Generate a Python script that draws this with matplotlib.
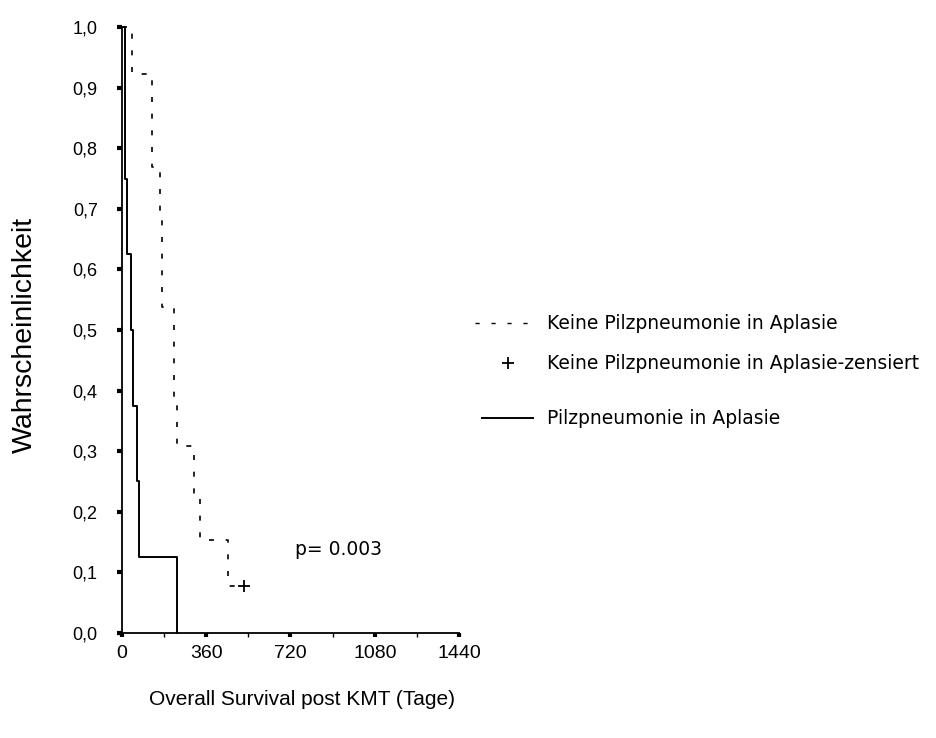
import matplotlib
matplotlib.use("Agg")
import matplotlib.pyplot as plt
from matplotlib.ticker import FixedLocator, FuncFormatter

plt.rcParams['font.family'] = ['Liberation Sans', 'DejaVu Sans']

# Kaplan-Meier steps (days, survival probability)
pilz_days = [0, 12, 22, 37, 48, 63, 74, 234]
pilz_surv = [1.0, 0.75, 0.625, 0.5, 0.375, 0.25, 0.125, 0.0]

keine_days = [0, 44, 127, 162, 169, 222, 234, 309, 333, 453, 521]
keine_surv = [1.0, 0.923, 0.769, 0.692, 0.538, 0.385, 0.308, 0.231, 0.154, 0.077, 0.077]

# censored observation
zensiert_days = [521]
zensiert_surv = [0.077]

x_ticks = [0, 360, 720, 1080, 1440]
x_minor = [180, 540, 900, 1260]
y_ticks = [0.0, 0.1, 0.2, 0.3, 0.4, 0.5, 0.6, 0.7, 0.8, 0.9, 1.0]

p_text = "p= 0.003"
labels = ["Keine Pilzpneumonie in Aplasie",
          "Keine Pilzpneumonie in Aplasie-zensiert",
          "Pilzpneumonie in Aplasie"]

fig = plt.figure(figsize=(9.36, 7.38), dpi=100)
ax = fig.add_axes([0.1303, 0.1423, 0.3601, 0.8211])

dash = (0, (3.0, 7.0))
ax.step(keine_days, keine_surv, where='post', color='black', lw=1.2,
        linestyle=dash, clip_on=False)
ax.step(pilz_days, pilz_surv, where='post', color='black', lw=1.4,
        clip_on=False)
ax.plot(zensiert_days, zensiert_surv, linestyle='none', marker='+',
        color='black', markersize=9, mew=1.3, clip_on=False)

txt_font = ['DejaVu Sans']
ax.text(739, 0.137, p_text, fontsize=13.5, family=txt_font, va='center', ha='left')

ax.set_xlim(0, 1440)
ax.set_ylim(0, 1.0)
ax.xaxis.set_major_locator(FixedLocator(x_ticks))
ax.xaxis.set_minor_locator(FixedLocator(x_minor))
ax.yaxis.set_major_locator(FixedLocator(y_ticks))
ax.yaxis.set_major_formatter(FuncFormatter(lambda v, _: f"{v:.1f}".replace('.', ',')))

for side in ['top', 'right']:
    ax.spines[side].set_visible(False)
for side in ['left', 'bottom']:
    ax.spines[side].set_linewidth(1.3)

ax.tick_params(axis='x', which='major', length=3, width=3, labelsize=14, pad=6)
ax.tick_params(axis='x', which='minor', length=3, width=1)
ax.tick_params(axis='y', which='major', length=3.5, width=3, labelsize=13, pad=14)

fig.text(0.3226, 0.0515, "Overall Survival post KMT (Tage)", fontsize=15,
         ha='center', va='center')
fig.text(0.0267, 0.546, "Wahrscheinlichkeit", fontsize=20.5, rotation=90,
         ha='center', va='center')

# legend drawn by hand
fig.add_artist(plt.Line2D([0.5075, 0.5662], [0.5623, 0.5623], color='black',
                          lw=1.0, linestyle=(0, (3.0, 8.5)),
                          transform=fig.transFigure))
fig.add_artist(plt.Line2D([0.5427], [0.5081], color='black', marker='+',
                          markersize=9, mew=1.3, transform=fig.transFigure))
fig.add_artist(plt.Line2D([0.515, 0.5695], [0.4336, 0.4336], color='black',
                          lw=1.4, transform=fig.transFigure))
for yy, lab in zip([0.5623, 0.5081, 0.4336], labels):
    fig.text(0.5844, yy, lab, fontsize=13.5, family=txt_font, va='center', ha='left')

fig.savefig("out.png", dpi=100)
